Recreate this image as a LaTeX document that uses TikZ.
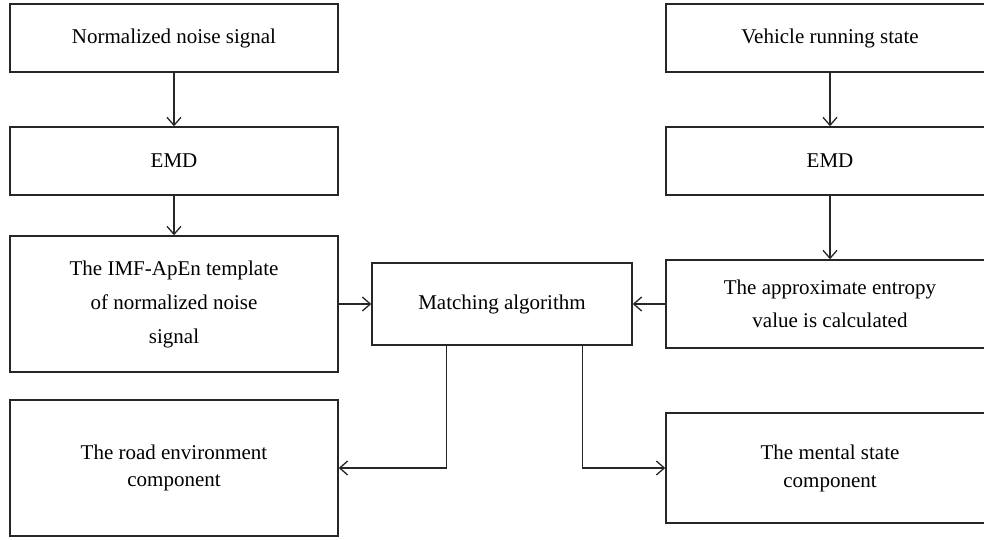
\documentclass[tikz,border=0pt]{standalone}
\usepackage{fontspec}
\setmainfont{Liberation Serif}
\usetikzlibrary{arrows.meta}
\tikzset{
  box/.style={draw=black!85, line width=1.4pt, rectangle, inner sep=0pt, align=center, minimum width=328pt},
  arr/.style={draw=black!85, line width=1.4pt, -{Straight Barb[length=8pt,width=14pt,line width=1.3pt]}},
}
\begin{document}
\begin{tikzpicture}[x=1pt,y=-1pt]
\useasboundingbox (0,0) rectangle (984,540);
\node[box, minimum height=68pt, font=\fontsize{21}{34}\selectfont] (n1) at (174,38) {Normalized noise signal};
\node[box, minimum height=68pt, font=\fontsize{21}{34}\selectfont] (e1) at (174,161) {EMD};
\node[box, minimum height=136pt, font=\fontsize{21}{34}\selectfont] (t1) at (174,304) {The IMF-ApEn template\\of normalized noise\\signal};
\node[box, minimum height=136pt, font=\fontsize{21}{27}\selectfont] (r1) at (174,468) {The road environment\\component};
\node[box, minimum height=68pt, font=\fontsize{21}{34}\selectfont] (n2) at (830,38) {Vehicle running state};
\node[box, minimum height=68pt, font=\fontsize{21}{34}\selectfont] (e2) at (830,161) {EMD};
\node[box, minimum height=88pt, font=\fontsize{21}{33}\selectfont] (a2) at (830,304) {The approximate entropy\\value is calculated};
\node[box, minimum width=260pt, minimum height=82pt, font=\fontsize{21}{34}\selectfont] (m) at (502,304) {Matching algorithm};
\node[box, minimum height=110pt, font=\fontsize{21}{28}\selectfont] (ms) at (830,468) {The mental state\\component};
\draw[arr] (n1) -- (e1);
\draw[arr] (e1) -- (t1);
\draw[arr] (t1) -- (m);
\draw[arr] (n2) -- (e2);
\draw[arr] (e2) -- (a2);
\draw[arr] (a2) -- (m);
\draw[arr] ([xshift=75pt]m.south west) |- (r1.east);
\draw[arr] ([xshift=211pt]m.south west) |- (ms.west);
\end{tikzpicture}
\end{document}
